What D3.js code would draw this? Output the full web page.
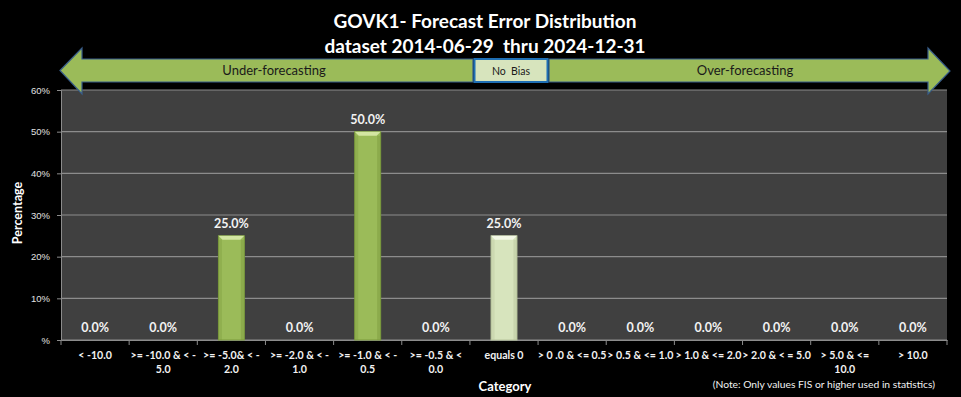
<!DOCTYPE html>
<html>
<head>
<meta charset="utf-8">
<script src="https://cdn.jsdelivr.net/npm/d3@7"></script>
<style>
  body { margin: 0; background: #000; }
  svg { display: block; font-family: Lato, "Open Sans", sans-serif; }
</style>
</head>
<body>
<div id="chart"></div>
<script>
// categories (each entry is a list of wrapped lines)
var categories = [
  ["< -10.0"],
  [">= -10.0 & < -", "5.0"],
  [">= -5.0& < -", "2.0"],
  [">= -2.0 & < -", "1.0"],
  [">= -1.0 & < -", "0.5"],
  [">= -0.5 & <", "0.0"],
  ["equals 0"],
  ["> 0 .0 & <= 0.5"],
  ["> 0.5 & <= 1.0"],
  ["> 1.0 & <= 2.0"],
  ["> 2.0 & < = 5.0"],
  ["> 5.0 & <=", "10.0"],
  ["> 10.0"]
];
var values = [0, 0, 25, 0, 50, 0, 25, 0, 0, 0, 0, 0, 0];
var yTicks = [0, 10, 20, 30, 40, 50, 60];

var width = 961, height = 397;
var margin = {top: 90, right: 14, bottom: 57, left: 61};

var svg = d3.select("#chart")
  .append("svg")
    .attr("width", width)
    .attr("height", height);

svg.append("rect")
  .attr("width", width)
  .attr("height", height)
  .attr("fill", "#000");

var x = d3.scaleBand()
  .domain(d3.range(categories.length))
  .range([margin.left, width - margin.right])
  .padding(0);

var y = d3.scaleLinear()
  .domain([0, 60])
  .range([height - margin.bottom, margin.top]);

// plot background
svg.append("rect")
  .attr("x", margin.left)
  .attr("y", margin.top)
  .attr("width", width - margin.left - margin.right)
  .attr("height", height - margin.top - margin.bottom)
  .attr("fill", "#404040");

// grid lines
svg.append("g")
  .selectAll("line")
  .data(yTicks)
  .join("line")
    .attr("x1", margin.left)
    .attr("x2", width - margin.right)
    .attr("y1", d => y(d))
    .attr("y2", d => y(d))
    .attr("stroke", "#8c8c8c")
    .attr("stroke-width", 1.2);

// y axis
var yAxis = svg.append("g")
  .attr("transform", "translate(" + margin.left + ",0)")
  .call(d3.axisLeft(y)
    .tickValues(yTicks)
    .tickSize(4)
    .tickFormat(d => d === 0 ? "%" : d + "%"));
yAxis.select(".domain").attr("stroke", "#8c8c8c");
yAxis.selectAll(".tick line").attr("stroke", "#8c8c8c");
yAxis.selectAll(".tick text")
  .attr("fill", "#e0e0e0")
  .attr("font-size", "9.5px")
  .attr("x", -11);

// x axis
var xAxis = svg.append("g")
  .attr("transform", "translate(0," + y(0) + ")")
  .call(d3.axisBottom(x).tickSize(0).tickFormat(""));
xAxis.select(".domain").attr("stroke", "#8c8c8c");

svg.append("g")
  .selectAll("line")
  .data(d3.range(categories.length + 1))
  .join("line")
    .attr("x1", d => margin.left + d * x.step())
    .attr("x2", d => margin.left + d * x.step())
    .attr("y1", y(0))
    .attr("y2", y(0) + 5)
    .attr("stroke", "#8c8c8c");

// category labels
var catLabels = svg.append("g")
  .selectAll("text")
  .data(categories)
  .join("text")
    .attr("text-anchor", "middle")
    .attr("fill", "#f2f2f2")
    .attr("font-size", "10.6px")
    .attr("font-weight", "bold");
catLabels.each(function(lines, i) {
  d3.select(this).selectAll("tspan")
    .data(lines)
    .join("tspan")
      .attr("x", x(i) + x.bandwidth() / 2)
      .attr("y", (d, j) => y(0) + 19 + j * 14)
      .text(d => d);
});

// bars
var barW = x.bandwidth() * 0.38;
var bars = svg.append("g")
  .selectAll("g")
  .data(values)
  .join("g")
    .attr("transform", (d, i) => "translate(" + (x(i) + (x.bandwidth() - barW) / 2) + ",0)");

bars.each(function(d, i) {
  if (d <= 0) return;
  var g = d3.select(this);
  var light = categories[i][0] === "equals 0";
  var fill = light ? "#d7e4bd" : "#9bbb59";
  var top = light ? "#f3f8e6" : "#d3e6a2";
  var edge = light ? "#b6c49a" : "#7a9a3c";
  var h = y(0) - y(d);
  g.append("rect")
    .attr("x", 0)
    .attr("y", y(d))
    .attr("width", barW)
    .attr("height", h)
    .attr("fill", fill)
    .attr("stroke", edge)
    .attr("stroke-width", 1);
  g.append("path")
    .attr("d", "M0," + y(d) + "L" + barW + "," + y(d) + "L" + (barW - 4) + "," + (y(d) + 4) + "L4," + (y(d) + 4) + "Z")
    .attr("fill", top);
  g.append("rect")
    .attr("x", 0.5)
    .attr("y", y(d) + 4)
    .attr("width", 3)
    .attr("height", h - 4)
    .attr("fill", edge)
    .attr("opacity", 0.35);
  g.append("rect")
    .attr("x", barW - 3.5)
    .attr("y", y(d) + 4)
    .attr("width", 3)
    .attr("height", h - 4)
    .attr("fill", edge)
    .attr("opacity", 0.45);
});

// data labels
svg.append("g")
  .selectAll("text")
  .data(values)
  .join("text")
    .attr("x", (d, i) => x(i) + x.bandwidth() / 2)
    .attr("y", d => y(d) - 8)
    .attr("text-anchor", "middle")
    .attr("fill", "#f2f2f2")
    .attr("font-size", "12.5px")
    .attr("font-weight", "bold")
    .text(d => d.toFixed(1) + "%");

// bias arrows
var arrowFill = "#9bbb59", arrowStroke = "#385d8a";
var bodyTop = 59, bodyBot = 82, headTop = 48, headBot = 94;
svg.append("path")
  .attr("d", "M60,70.5 L82," + headTop + " L82," + bodyTop + " L473," + bodyTop +
             " L473," + bodyBot + " L82," + bodyBot + " L82," + headBot + " Z")
  .attr("fill", arrowFill)
  .attr("stroke", arrowStroke)
  .attr("stroke-width", 1.2);
svg.append("path")
  .attr("d", "M549," + bodyTop + " L928," + bodyTop + " L928," + headTop + " L950,71 L928," + headBot +
             " L928," + bodyBot + " L549," + bodyBot + " Z")
  .attr("fill", arrowFill)
  .attr("stroke", arrowStroke)
  .attr("stroke-width", 1.2);
svg.append("rect")
  .attr("x", 474.5)
  .attr("y", bodyTop)
  .attr("width", 73)
  .attr("height", bodyBot - bodyTop)
  .attr("fill", "#d7e4bd")
  .attr("stroke", "#1f6fb4")
  .attr("stroke-width", 2);

svg.append("text")
  .attr("x", 274).attr("y", 75)
  .attr("text-anchor", "middle")
  .attr("font-size", "13px")
  .attr("fill", "#1a1a1a")
  .text("Under-forecasting");
svg.append("text")
  .attr("x", 511).attr("y", 75)
  .attr("text-anchor", "middle")
  .attr("font-size", "10.5px")
  .attr("fill", "#1a1a1a")
  .attr("xml:space", "preserve")
  .text("No  Bias");
svg.append("text")
  .attr("x", 745).attr("y", 75)
  .attr("text-anchor", "middle")
  .attr("font-size", "13px")
  .attr("fill", "#1a1a1a")
  .text("Over-forecasting");

// titles
svg.append("text")
  .attr("x", 485).attr("y", 28)
  .attr("text-anchor", "middle")
  .attr("font-size", "19px")
  .attr("font-weight", "bold")
  .attr("fill", "#fff")
  .text("GOVK1- Forecast Error Distribution");
svg.append("text")
  .attr("x", 485).attr("y", 53)
  .attr("text-anchor", "middle")
  .attr("font-size", "19px")
  .attr("font-weight", "bold")
  .attr("fill", "#fff")
  .attr("xml:space", "preserve")
  .text("dataset 2014-06-29  thru 2024-12-31");

svg.append("text")
  .attr("transform", "translate(22," + (margin.top + (height - margin.top - margin.bottom) / 2 - 2) + ") rotate(-90)")
  .attr("text-anchor", "middle")
  .attr("font-size", "12.5px")
  .attr("font-weight", "bold")
  .attr("fill", "#fff")
  .text("Percentage");

svg.append("text")
  .attr("x", 505).attr("y", 391)
  .attr("text-anchor", "middle")
  .attr("font-size", "13px")
  .attr("font-weight", "bold")
  .attr("fill", "#fff")
  .text("Category");

svg.append("text")
  .attr("x", 935).attr("y", 388)
  .attr("text-anchor", "end")
  .attr("font-size", "10.3px")
  .attr("fill", "#f2f2f2")
  .text("(Note: Only values FIS or higher used in statistics)");
</script>
</body>
</html>
